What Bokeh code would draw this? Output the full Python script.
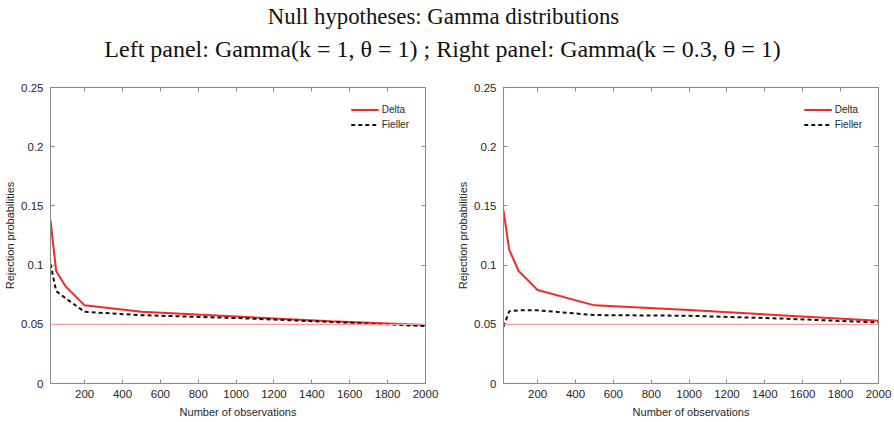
from bokeh.plotting import figure
from bokeh.models import (Range1d, LinearAxis, FixedTicker, Span, Label, Legend,
                          CustomLabelingPolicy)
from bokeh.layouts import column, row
from bokeh.embed import file_html
from bokeh.resources import INLINE

# ---------------- data ----------------
n_obs = [20, 50, 100, 200, 500, 1000, 1500, 2000]

left_delta = [0.138, 0.095, 0.082, 0.066, 0.0605, 0.0565, 0.0525, 0.0495]
left_fieller = [0.101, 0.078, 0.072, 0.0605, 0.0577, 0.0553, 0.052, 0.0485]

right_delta = [0.146, 0.113, 0.095, 0.079, 0.066, 0.062, 0.0575, 0.053]
right_fieller = [0.048, 0.061, 0.0618, 0.0618, 0.0578, 0.0572, 0.0548, 0.0515]

threshold = 0.05

x_ticks = [200, 400, 600, 800, 1000, 1200, 1400, 1600, 1800, 2000]
y_ticks = [0, 0.05, 0.1, 0.15, 0.2, 0.25]
y_tick_labels = ["0", "0.05", "0.1", "0.15", "0.2", "0.25"]

title_line1 = "Null hypotheses: Gamma distributions"
title_line2 = "Left panel: Gamma(k = 1, \u03b8 = 1) ; Right panel: Gamma(k = 0.3, \u03b8 = 1)"

RED = "#ee2a2a"
AXIS = "#8a8a8a"
LABEL = "#262626"
FONT = "Liberation Sans"


def style_axis(ax, ticks, overrides=None, show_labels=True):
    ax.ticker = FixedTicker(ticks=ticks)
    ax.axis_line_color = AXIS
    ax.major_tick_line_color = AXIS
    ax.minor_tick_line_color = None
    ax.major_tick_in = 4
    ax.major_tick_out = 0
    ax.major_label_text_font = FONT
    ax.major_label_text_color = LABEL
    ax.major_label_text_font_size = "11.5px"
    ax.axis_label_text_font = FONT
    ax.axis_label_text_color = LABEL
    ax.axis_label_text_font_style = "normal"
    ax.axis_label_text_font_size = "11px"
    if not show_labels:
        ax.major_label_policy = CustomLabelingPolicy(code="return new Set()")
        ax.major_label_standoff = 0
    if overrides:
        ax.major_label_overrides = overrides


def make_panel(delta, fieller, border_left, border_right):
    p = figure(frame_width=375, frame_height=296,
               x_range=Range1d(n_obs[0], n_obs[-1]), y_range=Range1d(y_ticks[0], y_ticks[-1]),
               output_backend="svg", toolbar_location=None,
               min_border_left=border_left, min_border_right=border_right,
               min_border_top=25, min_border_bottom=30)
    p.xgrid.visible = False
    p.ygrid.visible = False
    p.outline_line_color = AXIS
    p.background_fill_color = "white"
    p.border_fill_color = "white"

    style_axis(p.xaxis[0], x_ticks)
    p.xaxis[0].axis_label = "Number of observations"
    p.xaxis[0].major_label_standoff = 6
    p.xaxis[0].axis_label_standoff = 5
    style_axis(p.yaxis[0], y_ticks, {t: s for t, s in zip(y_ticks, y_tick_labels)})
    p.yaxis[0].axis_label = "Rejection probabilities"
    p.yaxis[0].major_label_standoff = 7
    p.yaxis[0].axis_label_standoff = 2

    top = LinearAxis()
    style_axis(top, x_ticks, show_labels=False)
    p.add_layout(top, "above")
    right = LinearAxis()
    style_axis(right, y_ticks, show_labels=False)
    p.add_layout(right, "right")

    p.add_layout(Span(location=threshold, dimension="width",
                      line_color="#ff9a9a", line_width=1.2))

    r1 = p.line(n_obs, delta, line_color=RED, line_width=2)
    r2 = p.line(n_obs, fieller, line_color="#111111", line_width=2, line_dash="4 3")

    legend = Legend(items=[("Delta", [r1]), ("Fieller", [r2])], location="top_right",
                    border_line_alpha=0, background_fill_alpha=0,
                    label_text_font=FONT, label_text_font_size="10px",
                    label_text_color=LABEL,
                    glyph_width=28, glyph_height=13, label_height=13,
                    label_standoff=3, spacing=2, margin=10, padding=6)
    p.add_layout(legend)
    return p


left = make_panel(left_delta, left_fieller, 50, 20)
right_p = make_panel(right_delta, right_fieller, 53, 8)

header = figure(width=878, height=62, x_range=Range1d(0, 878), y_range=Range1d(0, 62),
                output_backend="svg", toolbar_location=None,
                min_border=0, min_border_left=0, min_border_right=0,
                min_border_top=0, min_border_bottom=0)
header.axis.visible = False
header.xgrid.visible = False
header.ygrid.visible = False
header.outline_line_color = None
header.add_layout(Label(x=443, y=46, text=title_line1, text_align="center", text_baseline="middle",
                        text_font="Liberation Serif", text_font_size="22.8px", text_color="#111111"))
header.add_layout(Label(x=442, y=14, text=title_line2, text_align="center", text_baseline="middle",
                        text_font="Liberation Serif", text_font_size="24px", text_color="#111111"))

layout = column(header, row(left, right_p, spacing=0), spacing=0)

open("out.html", "w").write(file_html(layout, INLINE))
